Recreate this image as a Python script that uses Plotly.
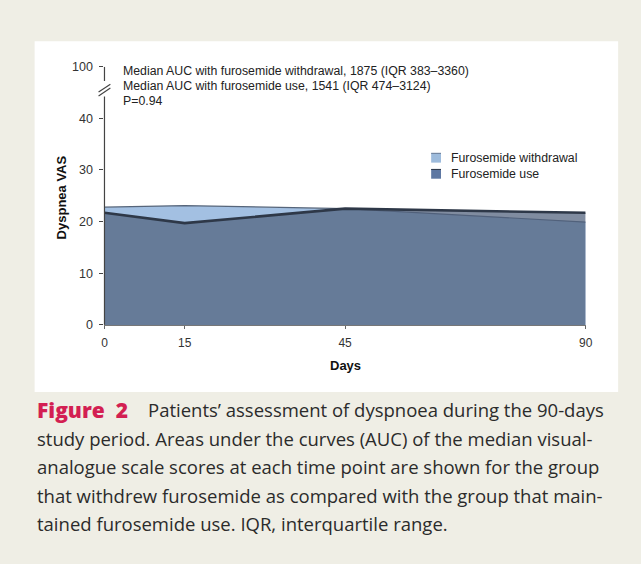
import plotly.graph_objects as go

# ---- data ----
days = [0, 15, 45, 90]
withdrawal = [22.8, 23.1, 22.5, 19.9]
use = [21.7, 19.7, 22.5, 21.7]
y_tickvals = [0, 10, 20, 30, 40, 50]
y_ticktext = ["0", "10", "20", "30", "40", "100"]
x_tickvals = [0, 15, 45, 90]
stat_lines = [
    "Median AUC with furosemide withdrawal, 1875 (IQR 383–3360)",
    "Median AUC with furosemide use, 1541 (IQR 474–3124)",
    "P=0.94",
]
legend_names = ["Furosemide withdrawal", "Furosemide use"]
fig_label = "Figure&nbsp;&nbsp;2"
caption_lines = [
    "Patients’ assessment of dyspnoea during the 90-days",
    "study period. Areas under the curves (AUC) of the median visual-",
    "analogue scale scores at each time point are shown for the group",
    "that withdrew furosemide as compared with the group that main-",
    "tained furosemide use. IQR, interquartile range.",
]

# page is 641x564; the body keeps its default 8px margin
PAGE_W, PAGE_H = 641, 564
OFF = 8
W, H = PAGE_W - 2 * OFF, PAGE_H - 2 * OFF
def px(x):
    return (x - OFF) / W
def py(y):
    return 1 - (y - OFF) / H

FONT = "Liberation Sans, Arial, sans-serif"
CAP_FONT = "Open Sans, sans-serif"
BG = "#efeee5"
LIGHT = "#a3c0e2"
DARK_FILL = "rgba(79,95,123,0.72)"

fig = go.Figure()
fig.add_trace(go.Scatter(
    x=days, y=withdrawal, mode="lines", fill="tozeroy",
    fillcolor=LIGHT, line=dict(color="#56657a", width=1.2),
    showlegend=False, hoverinfo="skip"))
fig.add_trace(go.Scatter(
    x=days, y=use, mode="lines", fill="tozeroy",
    fillcolor=DARK_FILL, line=dict(color="#2e3848", width=2.6),
    showlegend=False, hoverinfo="skip"))

shapes = []
# white panel
shapes.append(dict(type="rect", xref="paper", yref="paper", layer="below",
                   x0=px(32), x1=px(625), y0=py(395), y1=py(35),
                   fillcolor="white", line=dict(width=0)))
# y axis line with break
shapes.append(dict(type="line", xref="paper", yref="y", x0=px(103), x1=px(103),
                   y0=0, y1=44.2, line=dict(color="#444", width=1.2)))
shapes.append(dict(type="line", xref="paper", yref="y", x0=px(103), x1=px(103),
                   y0=47.2, y1=50, line=dict(color="#444", width=1.2)))
for off in (0, 4):
    shapes.append(dict(type="line", xref="paper", yref="paper",
                       x0=px(97), y0=py(89 + off - 2), x1=px(109), y1=py(81 + off - 2),
                       line=dict(color="#444", width=1.2)))
# legend squares
shapes.append(dict(type="rect", xref="paper", yref="paper",
                   x0=px(435), x1=px(445), y0=py(159.5), y1=py(149.5),
                   fillcolor="#9dbbdc", line=dict(width=0)))
shapes.append(dict(type="line", xref="paper", yref="paper",
                   x0=px(435), x1=px(445), y0=py(150), y1=py(150),
                   line=dict(color="#6d7f99", width=1)))
shapes.append(dict(type="rect", xref="paper", yref="paper",
                   x0=px(435), x1=px(445), y0=py(176), y1=py(166),
                   fillcolor="#5d77a2", line=dict(width=0)))
shapes.append(dict(type="line", xref="paper", yref="paper",
                   x0=px(435), x1=px(445), y0=py(166.5), y1=py(166.5),
                   line=dict(color="#2e3848", width=1)))

ann = []
for i, t in enumerate(stat_lines):
    ann.append(dict(text=t, xref="paper", yref="paper", x=px(120), y=py(65 + 15.5 * i),
                    xanchor="left", yanchor="middle", showarrow=False,
                    font=dict(family=FONT, size=12.3, color="#222")))
for i, t in enumerate(legend_names):
    ann.append(dict(text=t, xref="paper", yref="paper", x=px(453), y=py(155 + 16 * i),
                    xanchor="left", yanchor="middle", showarrow=False,
                    font=dict(family=FONT, size=12.3, color="#222")))
ann.append(dict(text="<b>Dyspnea VAS</b>", xref="paper", yref="paper", x=px(59), y=py(195),
                textangle=-90, xanchor="center", yanchor="middle", showarrow=False,
                font=dict(family=FONT, size=13, color="#111")))
ann.append(dict(text="<b>Days</b>", xref="paper", yref="paper", x=px(348), y=py(368),
                xanchor="center", yanchor="middle", showarrow=False,
                font=dict(family=FONT, size=13, color="#111")))
ann.append(dict(text=fig_label, xref="paper", yref="paper", x=px(32), y=py(413),
                xanchor="left", yanchor="middle", showarrow=False,
                font=dict(family=CAP_FONT, size=21, weight=800, color="#d31f52")))
for i, t in enumerate(caption_lines):
    x0 = 145 if i == 0 else 32
    ann.append(dict(text=t, xref="paper", yref="paper", x=px(x0), y=py(413 + 29.3 * i),
                    xanchor="left", yanchor="middle", showarrow=False,
                    font=dict(family=CAP_FONT, size=18.5, color="#2b2b2b")))

fig.update_layout(
    width=W, height=H,
    margin=dict(l=0, r=0, t=0, b=0),
    paper_bgcolor=BG, plot_bgcolor="rgba(0,0,0,0)",
    shapes=shapes, annotations=ann, showlegend=False,
    xaxis=dict(domain=[px(103), px(592)], range=[0, 90], tickvals=x_tickvals,
               ticks="outside", ticklen=3, tickcolor="#666", showgrid=False,
               zeroline=False, showline=True, linecolor="#777", linewidth=1,
               ticklabelstandoff=4,
               tickfont=dict(family=FONT, size=12, color="#333")),
    yaxis=dict(domain=[py(326), py(61)], range=[0, 50], tickvals=y_tickvals,
               ticktext=y_ticktext, ticks="outside", ticklen=4, tickcolor="#444",
               showgrid=False, zeroline=False, showline=False,
               ticklabelstandoff=4,
               tickfont=dict(family=FONT, size=12.5, color="#333")),
)

fig.write_html("out.html", config={"displayModeBar": False},
               post_script="document.body.style.background='#efeee5';")
